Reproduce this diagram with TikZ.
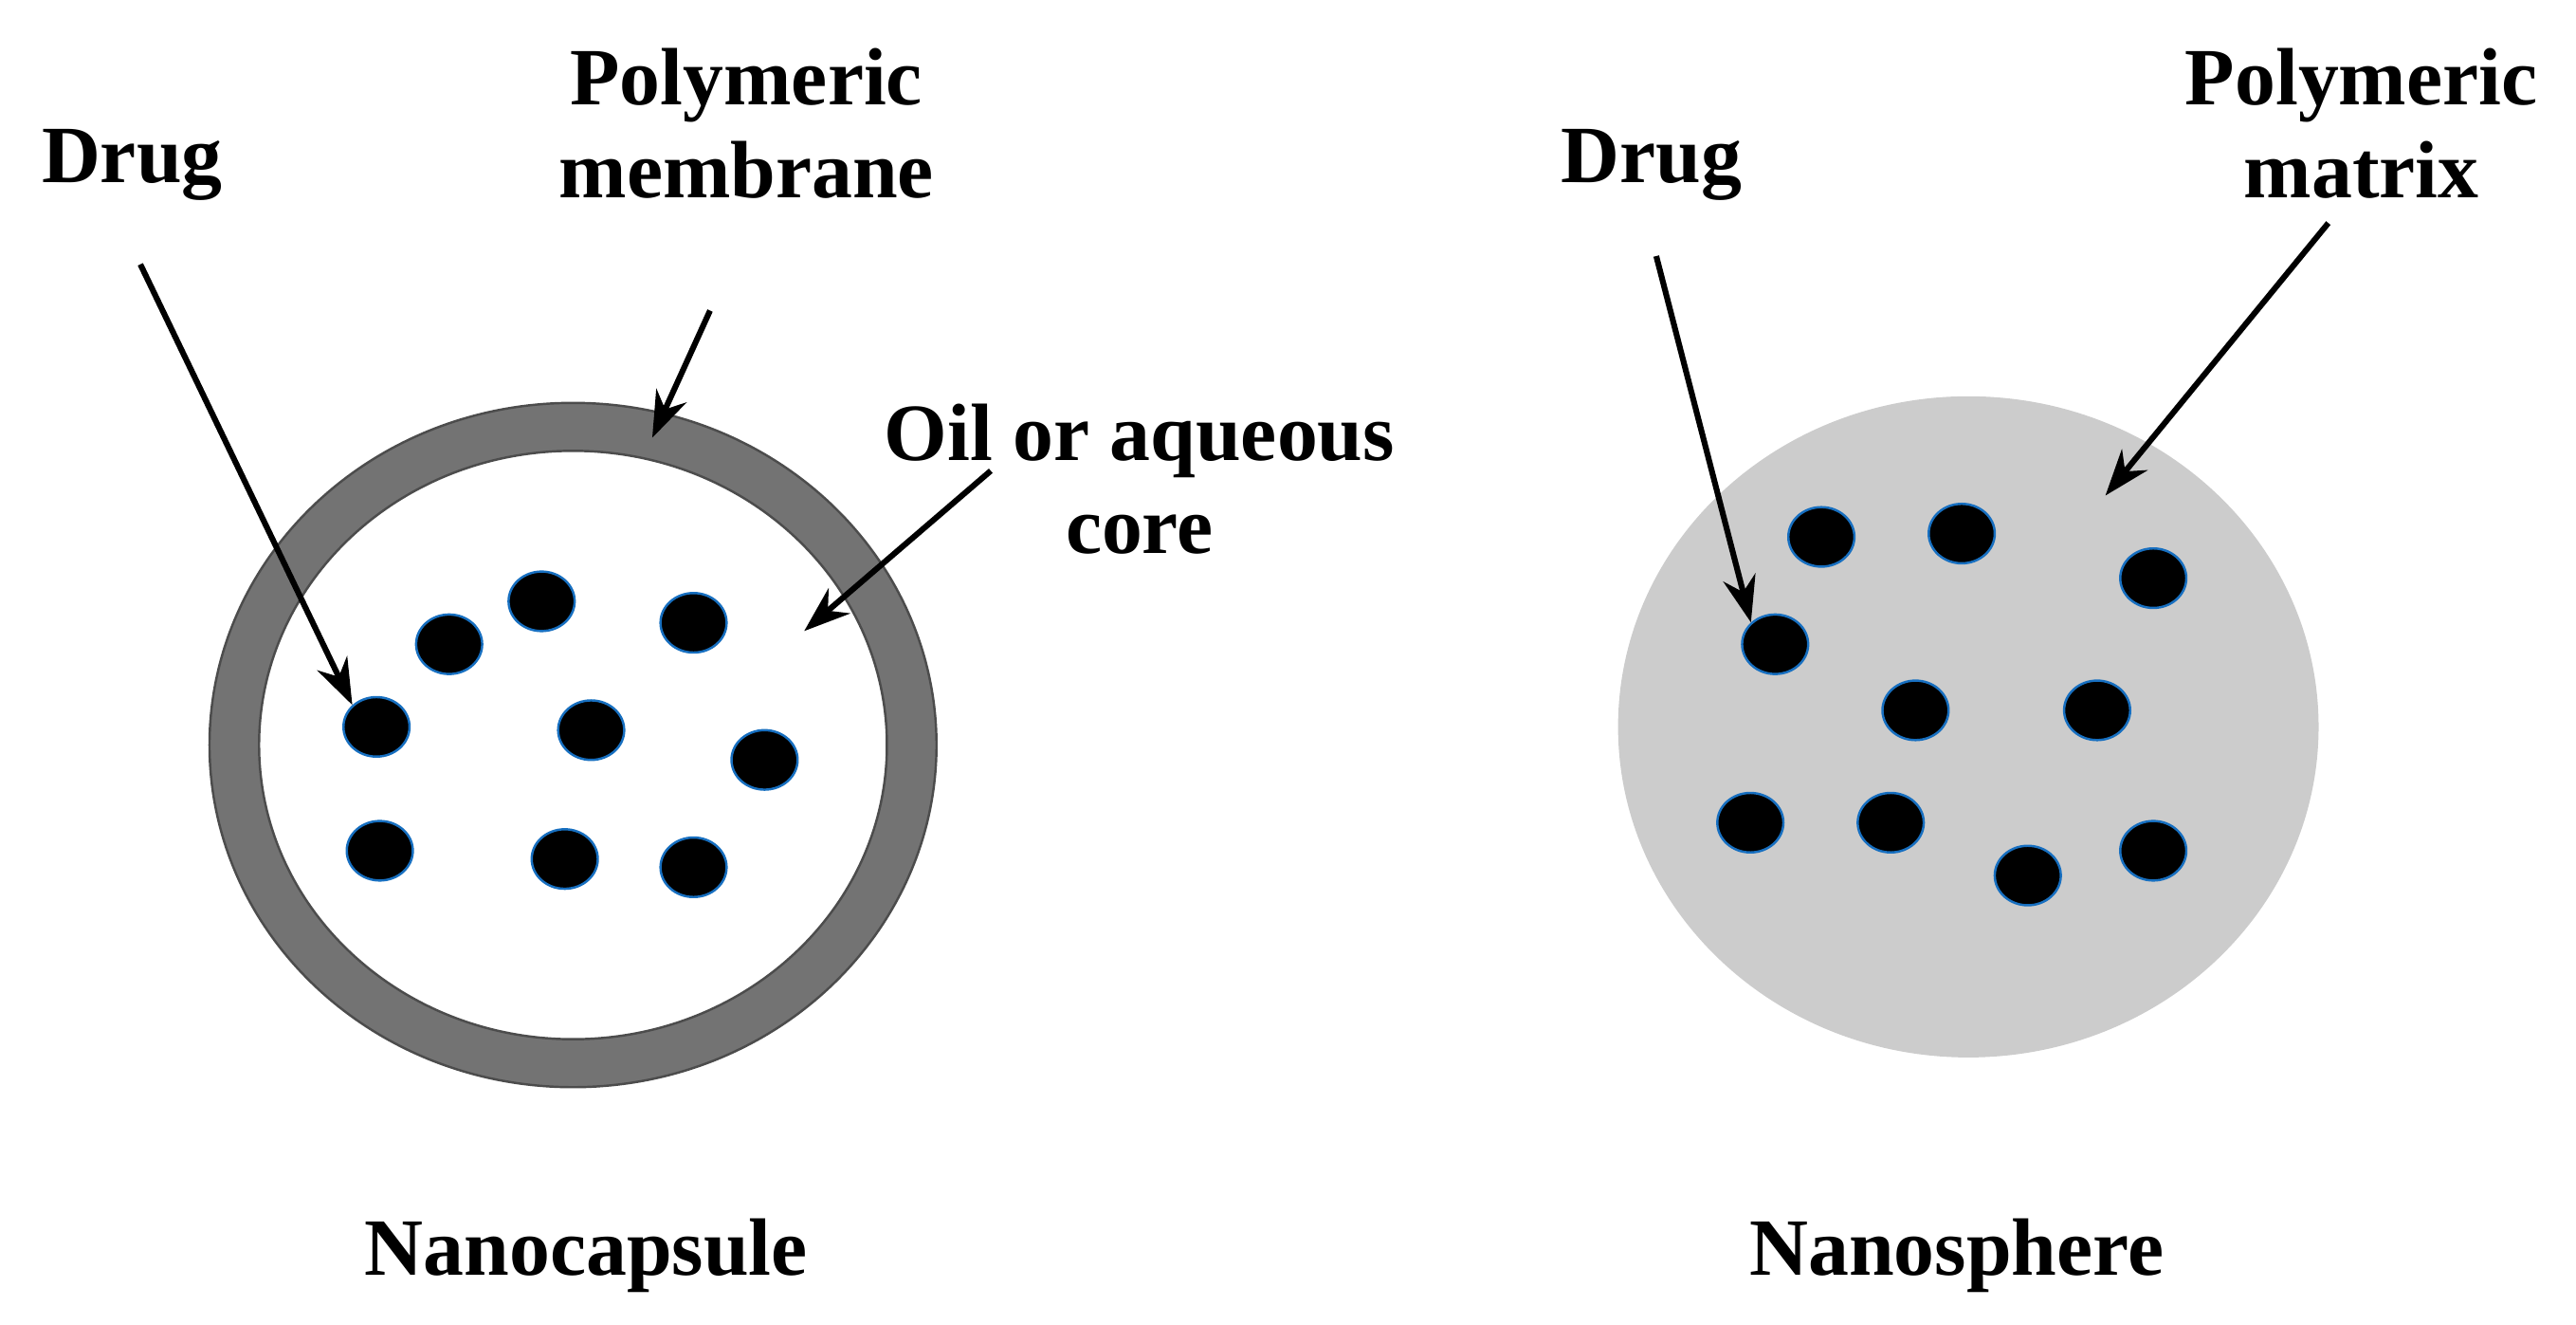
\documentclass[tikz,border=0pt]{standalone}
\usepackage{fontspec}
\setmainfont{Liberation Serif}
\usetikzlibrary{arrows.meta,shapes.geometric}
\begin{document}
\begin{tikzpicture}[
	x=0.01cm, y=-0.01cm,
	lbl/.style={
		font=\bfseries\fontsize{14}{16}\selectfont,
		align=center
	},
	drug/.style={
		ellipse, fill=black, draw=cyan!50!blue, line width=0.4pt,
		minimum width=0.4cm, minimum height=0.36cm, inner sep=0pt
	},
	pointer/.style={% Black pointer arrows
		-{Stealth[length=0.28cm,width=0.2cm]},
		line width=1pt
	},
]
	\useasboundingbox (0,0) rectangle (1560,802);

	% Nanocapsule
	\draw [fill=white!45!black, draw=black!70] (347,451) ellipse [x radius=2.2cm, y radius=2.07cm];
	\draw [fill=white, draw=black!70] (347,451) ellipse [x radius=1.9cm, y radius=1.78cm];
	\node [drug] (d1) at (228,440) {};
	\node [drug] (d2) at (272,390) {};
	\node [drug] (d3) at (328,364) {};
	\node [drug] (d4) at (420,377) {};
	\node [drug] (d5) at (358,442) {};
	\node [drug] (d6) at (463,460) {};
	\node [drug] (d7) at (230,515) {};
	\node [drug] (d8) at (342,520) {};
	\node [drug] (d9) at (420,525) {};

	\node [lbl] (drugA) at (80,100) {Drug};
	\node [lbl] (memb) at (452,75) {Polymeric\\membrane};
	\node [lbl] (core) at (690,290) {Oil or aqueous\\core};
	\node [lbl] (capsule) at (355,760) {Nanocapsule};

	\coordinate (sA) at (85,160);
	\coordinate (sM) at (430,188);
	\coordinate (sC) at (600,285);
	\coordinate (eM) at (395,265);
	\coordinate (eC) at (487,382);
	\draw [pointer] (sA) -- (d1.north west);
	\draw [pointer] (sM) -- (eM);
	\draw [pointer] (sC) -- (eC);

	% Nanosphere
	\fill [black!20] (1192,440) ellipse [x radius=2.12cm, y radius=2.0cm];
	\node [drug] (e1) at (1103,325) {};
	\node [drug] (e2) at (1188,323) {};
	\node [drug] (e3) at (1304,350) {};
	\node [drug] (e4) at (1075,390) {};
	\node [drug] (e5) at (1160,430) {};
	\node [drug] (e6) at (1270,430) {};
	\node [drug] (e7) at (1060,498) {};
	\node [drug] (e8) at (1145,498) {};
	\node [drug] (e9) at (1228,530) {};
	\node [drug] (e10) at (1304,515) {};

	\node [lbl] (drugB) at (1000,100) {Drug};
	\node [lbl] (matrix) at (1430,75) {Polymeric\\matrix};
	\node [lbl] (sphere) at (1185,760) {Nanosphere};

	\coordinate (sB) at (1003,155);
	\coordinate (sX) at (1410,135);
	\coordinate (eX) at (1275,300);
	\draw [pointer] (sB) -- (e4.north west);
	\draw [pointer] (sX) -- (eX);
\end{tikzpicture}
\end{document}
